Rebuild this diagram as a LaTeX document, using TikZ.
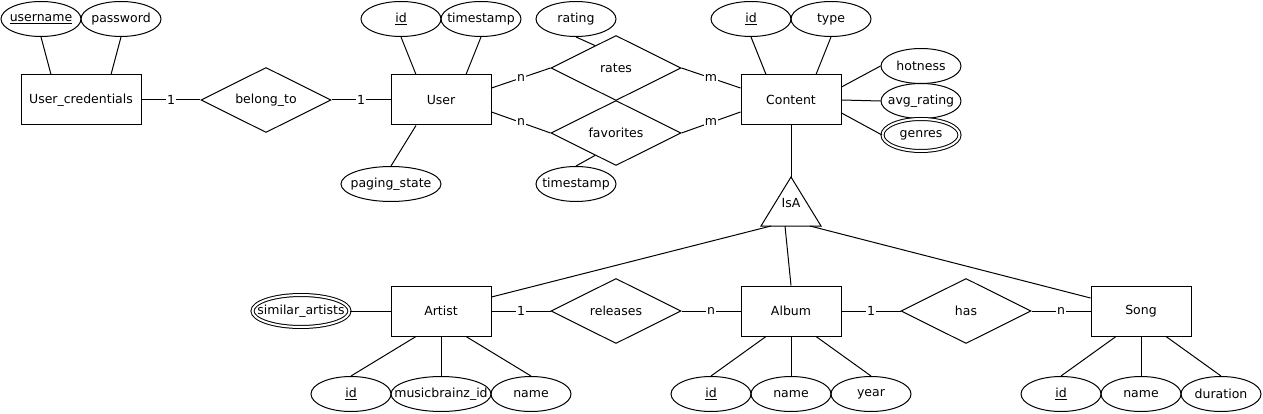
\documentclass[tikz,border=0pt]{standalone}
\usepackage{fontspec}
\setmainfont{DejaVu Sans}
\usetikzlibrary{shapes.geometric,calc}
\def\pk#1{\makebox[0pt]{\underline{#1}}}
\def\lb#1{\makebox[0pt]{#1}}
\tikzset{
  ent/.style={draw,minimum width=100pt,minimum height=50pt,inner sep=0pt},
  rel/.style={draw,diamond,aspect=2,minimum width=130pt,minimum height=65pt,inner sep=0pt},
  attr/.style={draw,ellipse,minimum width=80pt,minimum height=35pt,inner sep=0pt},
  multi/.style={attr,double,double distance=2pt,minimum width=77pt,minimum height=32pt},
  card/.style={fill=white,inner sep=1pt}
}
\begin{document}
\begin{tikzpicture}[x=1pt,y=-1pt,line width=1pt,font=\fontsize{12.5}{14}\selectfont]
\useasboundingbox (0,0) rectangle (1263,414);
\node[ent,minimum width=120pt] (cred) at (81,100) {User\_credentials};
\node[attr] (uname) at (41,19) {\pk{username}};
\node[attr] (pass) at (121,19) {\lb{password}};
\node[rel] (belong) at (266,100) {belong\_to};
\node[ent] (user) at (441,100) {User};
\node[attr] (uid) at (401,19) {\pk{id}};
\node[attr] (uts) at (481,19) {\lb{timestamp}};
\node[attr,minimum width=100pt] (paging) at (391,184) {\lb{paging\_state}};
\node[rel] (rates) at (616,68) {rates};
\node[rel] (fav) at (616,133) {favorites};
\node[attr] (rating) at (576,19) {\lb{rating}};
\node[attr] (fts) at (576,184) {\lb{timestamp}};
\node[ent] (content) at (791,100) {Content};
\node[attr] (cid) at (751,19) {\pk{id}};
\node[attr] (type) at (831,19) {\lb{type}};
\node[attr] (hot) at (921,66) {\lb{hotness}};
\node[attr] (avg) at (921,101) {\lb{avg\_rating}};
\node[multi] (genres) at (921,135) {\lb{genres}};
\node (isa) at (791,203) {IsA};
\coordinate (isatop) at (791,177);
\coordinate (isal) at (771,226);
\coordinate (isam) at (785,226);
\coordinate (isar) at (810,226);
\draw (isatop) -- (761,226) -- (821,226) -- cycle;
\node[ent] (artist) at (441,311) {Artist};
\node[multi,minimum width=97pt] (similar) at (301,311) {\lb{similar\_artists}};
\node[attr] (aid) at (351,394) {\pk{id}};
\node[attr,minimum width=100pt] (mbid) at (441,394) {\lb{musicbrainz\_id}};
\node[attr] (aname) at (531,394) {\lb{name}};
\node[rel] (releases) at (616,311) {releases};
\node[ent] (album) at (791,311) {Album};
\node[attr] (alid) at (711,394) {\pk{id}};
\node[attr] (alname) at (791,394) {\lb{name}};
\node[attr] (year) at (871,394) {\lb{year}};
\node[rel] (has) at (966,311) {has};
\node[ent] (song) at (1141,311) {Song};
\node[attr] (sid) at (1061,394) {\pk{id}};
\node[attr] (sname) at (1141,394) {\lb{name}};
\node[attr] (dur) at (1221,394) {\lb{duration}};
\draw (uname.south) -- ([xshift=-30pt]cred.north);
\draw (pass.south) -- ([xshift=30pt]cred.north);
\draw (cred) -- node[card]{1} (belong);
\draw (belong) -- node[card]{1} (user);
\draw (uid.south) -- ([xshift=-25pt]user.north);
\draw (uts.south) -- ([xshift=25pt]user.north);
\draw (paging.north) -- ([xshift=-25pt]user.south);
\draw ([yshift=12pt]user.east) -- node[card]{n} (rates.west);
\draw ([yshift=-12pt]user.east) -- node[card]{n} (fav.west);
\draw (rates.east) -- node[card]{m} ([yshift=12pt]content.west);
\draw (fav.east) -- node[card]{m} ([yshift=-12pt]content.west);
\draw (rating.south) -- ($(rates.west)!.68!(rates.north)$);
\draw (fts.north) -- ($(fav.west)!.68!(fav.south)$);
\draw (cid.south) -- ([xshift=-25pt]content.north);
\draw (type.south) -- ([xshift=25pt]content.north);
\draw ([yshift=13pt]content.east) -- (hot.west);
\draw (content.east) -- (avg.west);
\draw ([yshift=-13pt]content.east) -- (genres.west);
\draw (content.south) -- (isatop);
\draw (isal) -- ([yshift=14pt]artist.east);
\draw (isam) -- (album.north);
\draw (isar) -- ([yshift=13pt]song.west);
\draw (similar) -- (artist);
\draw (aid.north) -- ([xshift=-25pt]artist.south);
\draw (mbid) -- (artist);
\draw (aname.north) -- ([xshift=25pt]artist.south);
\draw (artist) -- node[card]{1} (releases);
\draw (releases) -- node[card]{n} (album);
\draw (alid.north) -- ([xshift=-25pt]album.south);
\draw (alname) -- (album);
\draw (year.north) -- ([xshift=25pt]album.south);
\draw (album) -- node[card]{1} (has);
\draw (has) -- node[card]{n} (song);
\draw (sid.north) -- ([xshift=-25pt]song.south);
\draw (sname) -- (song);
\draw (dur.north) -- ([xshift=25pt]song.south);
\end{tikzpicture}
\end{document}
